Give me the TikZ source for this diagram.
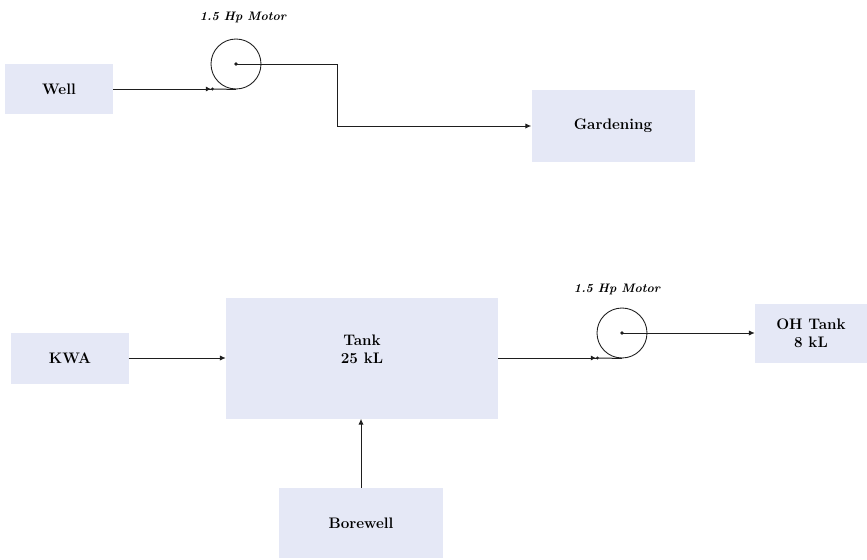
\documentclass[tikz,border=0pt]{standalone}
\definecolor{plantblue}{HTML}{E5E8F6}
\definecolor{plantline}{HTML}{1E1E1E}
\usetikzlibrary{arrows.meta,positioning}

\begin{document}
\begin{tikzpicture}[x=0.03cm,y=-0.03cm]
        \tikzset{
            plant/.style={
                fill=plantblue,
                draw=none,
                align=center,
                inner sep=0pt,
                font=\fontsize{13}{15.5}\selectfont\bfseries
            },
            plantmotor/.style={
                circle,
                draw=plantline,
                line width=0.75pt,
                minimum size=1.5cm,
                inner sep=0pt
            },
            plantlabel/.style={font=\fontsize{10.5}{12}\selectfont\bfseries\itshape},
            plantpipe/.style={draw=plantline, line width=0.85pt},
            plantinlet/.style={
                plantpipe,
                -{Latex[length=4.5pt,width=4.5pt] Circle[length=2.5pt]}
            },
            plantfeed/.style={
                plantpipe,
                -{Latex[length=5pt,width=4.5pt]}
            }
        }
        \useasboundingbox (0,0) rectangle (867,560);

        % garden line
        \node[plant, minimum width=3.24cm, minimum height=1.47cm] (well) at (59,89) {Well};
        \node[plantmotor] (motora) at (236,64) {};
        \node[plantlabel] (motoralabel) at (243,17) {1.5 Hp Motor};
        \node[plant, minimum width=4.89cm, minimum height=2.13cm] (garden) at (613,126) {Gardening};
        \coordinate (wellin) at (214,89);
        \coordinate (gardenbend) at (337,64);

        \draw[plantinlet] (well.east) -- (wellin);
        \draw[plantpipe] (wellin) -- (motora.south);
        \fill[plantline] (motora.center) circle (1.6pt);
        \draw[plantfeed] (motora.center) -- (gardenbend) |- (garden.west);

        % tank line
        \node[plant, minimum width=3.51cm, minimum height=1.53cm] (kwa) at (70,358) {KWA};
        \node[plant, minimum width=8.16cm, minimum height=3.63cm] (tank) at (362,358) {};
        \node[plant, fill=none] (tanktext) at (362,349) {Tank\\25 kL};
        \node[plant, minimum width=4.92cm, minimum height=2.1cm] (borewell) at (361,523) {Borewell};
        \node[plantmotor] (motorb) at (622,333) {};
        \node[plantlabel] (motorblabel) at (617,289) {1.5 Hp Motor};
        \node[plant, minimum width=3.36cm, minimum height=1.77cm] (ohtank) at (811,333) {OH Tank\\8 kL};
        \coordinate (tankin) at (599,358);

        \draw[plantfeed] (kwa.east) -- (tank.west);
        \draw[plantfeed] (borewell.north) -- (borewell.north |- tank.south);
        \draw[plantinlet] (tank.east) -- (tankin);
        \draw[plantpipe] (tankin) -- (motorb.south);
        \fill[plantline] (motorb.center) circle (1.6pt);
        \draw[plantfeed] (motorb.center) -- (ohtank.west);
    \end{tikzpicture}
\end{document}
